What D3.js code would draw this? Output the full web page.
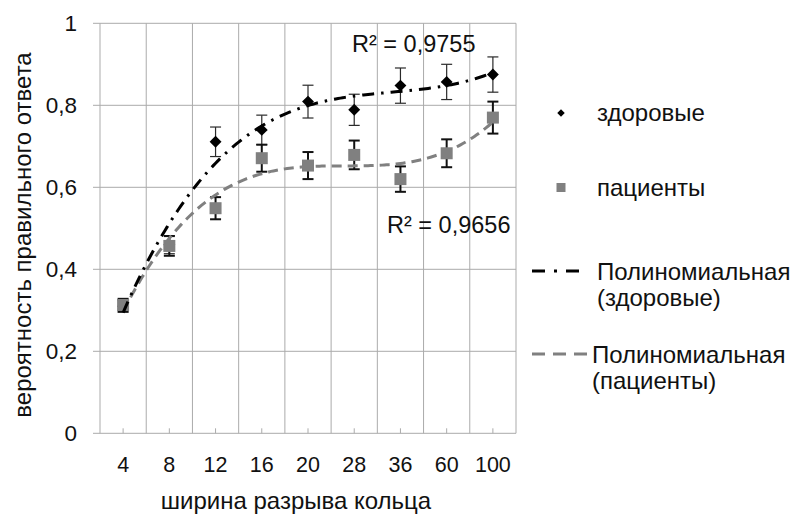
<!DOCTYPE html>
<html>
<head>
<meta charset="utf-8">
<script src="https://cdn.jsdelivr.net/npm/d3@7"></script>
<style>
  html, body { margin: 0; padding: 0; background: #fff; }
  svg { display: block; font-family: "Liberation Sans", Arial, sans-serif; }
</style>
</head>
<body>
<svg id="chart" width="795" height="516"></svg>
<script>
// Ring-gap widths (categories) and response probabilities
const gaps = ["4", "8", "12", "16", "20", "28", "36", "60", "100"];
const healthy = [0.31, 0.46, 0.711, 0.74, 0.809, 0.789, 0.848, 0.857, 0.875];
const healthyErr = [0.015, 0.022, 0.036, 0.036, 0.04, 0.038, 0.043, 0.043, 0.043];
const patients = [0.313, 0.457, 0.549, 0.671, 0.653, 0.679, 0.62, 0.683, 0.77];
const patientsErr = [0.015, 0.024, 0.027, 0.033, 0.033, 0.035, 0.031, 0.034, 0.039];
const yTicks = [0, 0.2, 0.4, 0.6, 0.8, 1];
const trendDegree = 3;

const svg = d3.select("#chart");
const plotL = 100, plotR = 516, plotT = 23.3, plotB = 433.3;
const FONT = "Liberation Sans, Arial, sans-serif";

const x = d3.scaleBand().domain(gaps).range([plotL, plotR]).padding(0);
const bw = x.bandwidth();
const cx = d => x(d) + bw / 2;
const y = d3.scaleLinear().domain([0, 1]).range([plotB, plotT]);
const xi = d3.scaleLinear().domain([1, gaps.length]).range([cx(gaps[0]), cx(gaps[gaps.length - 1])]);

// Least-squares polynomial trend on the category index (1..n)
function polyFit(vals, deg) {
  const n = vals.length;
  const ts = vals.map((v, i) => (i + 1 - 5) / 4);
  const m = deg + 1;
  const A = Array.from({length: m}, () => new Array(m + 1).fill(0));
  for (let i = 0; i < n; i++) {
    for (let r = 0; r < m; r++) {
      for (let c = 0; c < m; c++) A[r][c] += Math.pow(ts[i], r + c);
      A[r][m] += Math.pow(ts[i], r) * vals[i];
    }
  }
  for (let c = 0; c < m; c++) {
    let p = c;
    for (let r = c + 1; r < m; r++) if (Math.abs(A[r][c]) > Math.abs(A[p][c])) p = r;
    [A[c], A[p]] = [A[p], A[c]];
    for (let r = 0; r < m; r++) {
      if (r === c) continue;
      const f = A[r][c] / A[c][c];
      for (let k = c; k <= m; k++) A[r][k] -= f * A[c][k];
    }
  }
  const coef = A.map((row, i) => row[m] / row[i]);
  return xv => { const t = (xv - 5) / 4; return coef.reduce((s, a, i) => s + a * Math.pow(t, i), 0); };
}

// Grid
const grid = svg.append("g").attr("stroke", "#ababab").attr("stroke-width", 1);
yTicks.forEach(t => {
  grid.append("line").attr("x1", plotL - 7).attr("x2", plotR).attr("y1", y(t)).attr("y2", y(t));
});
const bounds = gaps.map(g => x(g)).concat([plotR]);
bounds.forEach(b => {
  grid.append("line").attr("x1", b).attr("x2", b).attr("y1", plotT).attr("y2", plotB);
});
gaps.forEach(g => {
  grid.append("line").attr("x1", cx(g)).attr("x2", cx(g)).attr("y1", plotB - 5).attr("y2", plotB);
});

// Axis labels
const yAxis = d3.axisLeft(y).tickValues(yTicks).tickSize(0).tickPadding(23)
  .tickFormat(d => d3.format("")(d).replace(".", ","));
svg.append("g").attr("transform", `translate(${plotL},0)`).call(yAxis)
  .call(g => g.select(".domain").remove())
  .selectAll("text").attr("font-size", 22.5).attr("fill", "#111").attr("font-family", FONT);

const xAxis = d3.axisBottom(x).tickSize(0).tickPadding(23);
svg.append("g").attr("transform", `translate(0,${plotB})`).call(xAxis)
  .call(g => g.select(".domain").remove())
  .selectAll("text").attr("font-size", 21.5).attr("fill", "#111").attr("font-family", FONT);

svg.append("text").attr("x", 296).attr("y", 509).attr("text-anchor", "middle")
  .attr("font-size", 24).attr("fill", "#111").text("ширина разрыва кольца");
svg.append("text").attr("transform", `translate(31,235) rotate(-90)`)
  .attr("text-anchor", "middle").attr("font-size", 24).attr("fill", "#111")
  .text("вероятность правильного ответа");

// Error bars
function errBars(vals, errs, w, color) {
  const g = svg.append("g").attr("stroke", color).attr("stroke-width", w);
  gaps.forEach((c, i) => {
    const X = cx(c), y1 = y(vals[i] + errs[i]), y2 = y(vals[i] - errs[i]);
    g.append("line").attr("x1", X).attr("x2", X).attr("y1", y1).attr("y2", y2);
    g.append("line").attr("x1", X - 5.5).attr("x2", X + 5.5).attr("y1", y1).attr("y2", y1);
    g.append("line").attr("x1", X - 5.5).attr("x2", X + 5.5).attr("y1", y2).attr("y2", y2);
  });
}
errBars(healthy, healthyErr, 1.2, "#2a2a2a");
errBars(patients, patientsErr, 2, "#111");

// Markers
svg.append("g").selectAll("path").data(healthy).join("path")
  .attr("d", d3.symbol(d3.symbolDiamond2, 90))
  .attr("transform", (d, i) => `translate(${cx(gaps[i])},${y(d)})`)
  .attr("fill", "#000");
svg.append("g").selectAll("rect").data(patients).join("rect")
  .attr("x", (d, i) => cx(gaps[i]) - 6).attr("y", d => y(d) - 6)
  .attr("width", 12).attr("height", 12).attr("fill", "#808080");

// Polynomial trend lines
const fitH = polyFit(healthy, trendDegree);
const fitP = polyFit(patients, trendDegree);
const idx = d3.range(1, gaps.length + 0.001, 0.05);
const line = f => d3.line().x(d => xi(d)).y(d => y(f(d)))(idx);

svg.append("path").attr("d", line(fitP)).attr("fill", "none")
  .attr("stroke", "#808080").attr("stroke-width", 3).attr("stroke-dasharray", "10,6");
svg.append("path").attr("d", line(fitH)).attr("fill", "none")
  .attr("stroke", "#000").attr("stroke-width", 3).attr("stroke-dasharray", "12,7,2.5,7");

// R² labels
svg.append("text").attr("x", 352).attr("y", 52).attr("font-size", 23.5).attr("fill", "#111").text("R² = 0,9755");
svg.append("text").attr("x", 387).attr("y", 233).attr("font-size", 23.5).attr("fill", "#111").text("R² = 0,9656");

// Legend
const lg = svg.append("g").attr("font-size", 24).attr("fill", "#111");
lg.append("path").attr("d", d3.symbol(d3.symbolDiamond2, 36)).attr("transform", "translate(561,113)").attr("fill", "#000");
lg.append("text").attr("x", 597).attr("y", 121).text("здоровые");
lg.append("rect").attr("x", 556.5).attr("y", 183).attr("width", 9).attr("height", 9).attr("fill", "#808080");
lg.append("text").attr("x", 597).attr("y", 196).text("пациенты");
lg.append("line").attr("x1", 532).attr("x2", 580).attr("y1", 271).attr("y2", 271)
  .attr("stroke", "#000").attr("stroke-width", 3).attr("stroke-dasharray", "13,9,3,9");
lg.append("text").attr("x", 597).attr("y", 280).text("Полиномиальная");
lg.append("text").attr("x", 597).attr("y", 306).text("(здоровые)");
lg.append("line").attr("x1", 532).attr("x2", 589).attr("y1", 354).attr("y2", 354)
  .attr("stroke", "#808080").attr("stroke-width", 3).attr("stroke-dasharray", "13,8");
lg.append("text").attr("x", 592).attr("y", 363).text("Полиномиальная");
lg.append("text").attr("x", 592).attr("y", 389).text("(пациенты)");
</script>
</body>
</html>
